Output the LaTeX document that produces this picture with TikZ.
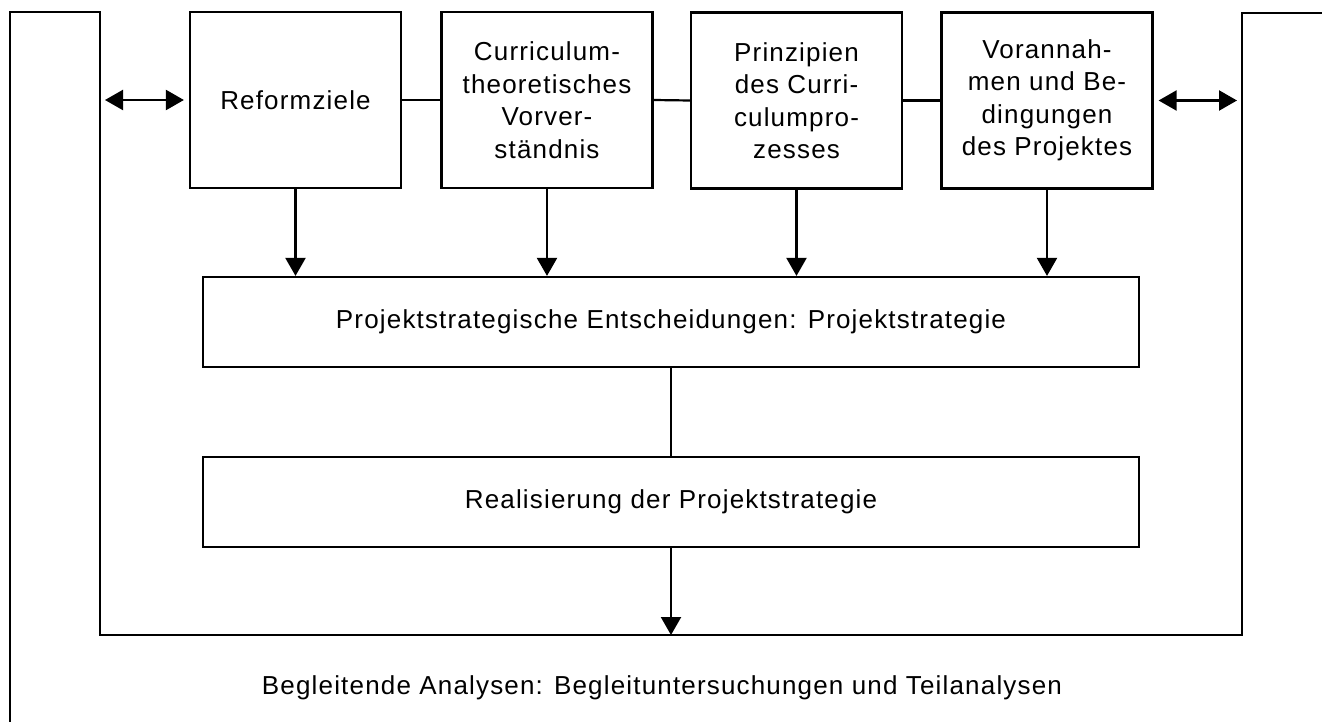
\documentclass[tikz,border=0pt]{standalone}
\usepackage{fontspec}
\setmainfont[LetterSpace=4.5]{Liberation Sans}
\usetikzlibrary{arrows.meta}
\begin{document}
\begin{tikzpicture}[x=1pt,y=-1pt,
  txt/.style={font=\fontsize{26}{32.5}\selectfont},
  box/.style={draw, line width=2.2pt, align=center, inner sep=0pt, txt},
  topbox/.style={box, minimum width=211pt, minimum height=176pt},
  widebox/.style={box, minimum width=936pt, minimum height=90pt},
  ln/.style={line width=2.2pt, line join=miter},
  arr/.style={ln, -{Triangle[length=18pt,width=20pt]}},
  darr/.style={ln, {Triangle[length=18pt,width=20pt]}-{Triangle[length=18pt,width=20pt]}, shorten <=5pt, shorten >=5pt}]
\useasboundingbox (0,0) rectangle (1322,722);
% frame
\coordinate (o1) at (10,722);
\coordinate (o2) at (10,12);
\coordinate (o3) at (100,12);
\coordinate (o4) at (100,635);
\coordinate (o5) at (1242,635);
\coordinate (o6) at (1242,13);
\coordinate (o7) at (1322,13);
\draw[ln] (o1) -- (o2) -- (o3) -- (o4) -- (o5) -- (o6) -- (o7);
% top boxes
\node[topbox] (b1) at (295.5,100) {Reformziele};
\node[topbox] (b2) at (547,100) {Curriculum-\\theoretisches\\Vorver-\\ständnis};
\node[topbox] (b3) at (796.5,100.5) {Prinzipien\\des Curri-\\culumpro-\\zesses};
\node[topbox] (b4) at (1047,100.5) {Vorannah-\\men und Be-\\dingungen\\des Projektes};
% wide boxes
\node[widebox] (p) at (671,322) {Projektstrategische Entscheidungen: Projektstrategie};
\node[widebox] (r) at (671,502) {Realisierung der Projektstrategie};
\node[txt] (t) at (662,688) {Begleitende Analysen: Begleituntersuchungen und Teilanalysen};
% connectors
\draw[ln] (b1.east) -- (b2.west);
\draw[ln] (b2.east) -- (b3.west);
\draw[ln] (b3.east) -- (b4.west);
\draw[darr] (b1.west -| o3) -- (b1.west);
\draw[darr] (b4.east) -- (b4.east -| o6);
\foreach \b in {b1,b2,b3,b4}
  \draw[arr] (\b.south) -- (\b.south |- p.north);
\draw[ln] (p.south) -- (r.north);
\draw[arr] (r.south) -- (r.south |- o5);
\end{tikzpicture}
\end{document}
